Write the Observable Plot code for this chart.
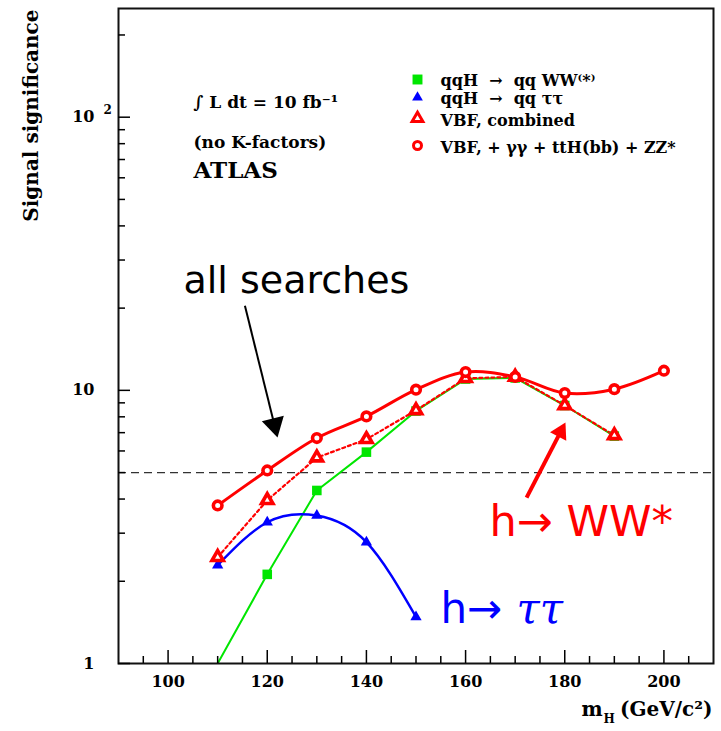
<!DOCTYPE html>
<html><head><meta charset="utf-8">
<script src="https://cdn.jsdelivr.net/npm/d3@7"></script>
<script src="https://cdn.jsdelivr.net/npm/@observablehq/plot@0.6"></script>
<style>html,body{margin:0;padding:0;background:#fff;overflow:hidden} svg{display:block}</style>
</head><body><div id="chart"></div>
<script>
// ---- data ----
const mass = [110, 120, 130, 140, 150, 160, 170, 180, 190, 200];
const wwSig = [1.0, 2.12, 4.30, 5.94, 8.4, 11.0, 11.1, 8.8, 6.8];          // qqH -> qq WW(*)
const tautauSig = [2.29, 3.29, 3.48, 2.78, 1.48];                          // qqH -> qq tautau
const vbfSig = [2.45, 3.96, 5.67, 6.62, 8.45, 11.07, 11.2, 8.81, 6.84];    // VBF combined
const allSig = [3.79, 5.09, 6.69, 8.03, 10.06, 11.67, 11.2, 9.77, 10.1, 11.8]; // all searches
const discovery = [5];
const xTickLabels = [100, 120, 140, 160, 180, 200];
const xMinorTicks = [95, 105, 110, 115, 125, 130, 135, 145, 150, 155, 165, 170, 175, 185, 190, 195, 205];
const yTickLabels = [1, 10, 100];
const yMinorTicks = [2, 3, 4, 5, 6, 7, 8, 9, 20, 30, 40, 50, 60, 70, 80, 90, 200];
const legendLabels = ["qqH  →  qq WW⁽*⁾", "qqH  →  qq ττ", "VBF, combined", "VBF, + γγ + ttH(bb) + ZZ*"];
const infoLines = ["∫ L dt = 10 fb⁻¹", "(no K-factors)", "ATLAS"];
// annotation arrows (data coordinates)
const arrowAll = [{x1: 115.5, y1: 20.4, x2: 121.44, y2: 7.48}];
const arrowWW = [{x1: 172.3, y1: 4.05, x2: 179.16, y2: 7.05}];

const rows = arr => arr.map((v, i) => ({m: mass[i], v}));
const ww = rows(wwSig), tt = rows(tautauSig), vbf = rows(vbfSig), all = rows(allSig);

const GREEN = "#00e600", BLUE = "#0000ff", RED = "#ff0000";
const FW = 721 - 118 - 8, FH = 731 - 8 - 68;
const serif = "DejaVu Serif";

const chart = Plot.plot({
  width: 721, height: 731,
  marginLeft: 118, marginRight: 8, marginTop: 8, marginBottom: 68,
  x: {domain: [90, 210]},
  y: {type: "log", domain: [1, 250]},
  style: {fontFamily: serif, fontWeight: "bold", fontSize: "16px", background: "white", color: "black"},
  marks: [
    Plot.ruleY(discovery, {stroke: "#333", strokeWidth: 1.2, strokeDasharray: "8,5"}),
    // lines
    Plot.line(ww, {x: "m", y: "v", stroke: GREEN, strokeWidth: 2, clip: true}),
    Plot.line(tt, {x: "m", y: "v", stroke: BLUE, strokeWidth: 2.5, curve: "natural"}),
    Plot.line(vbf, {x: "m", y: "v", stroke: RED, strokeWidth: 2.2, strokeDasharray: "3,3"}),
    Plot.line(all, {x: "m", y: "v", stroke: RED, strokeWidth: 3, curve: "catmull-rom"}),
    // markers
    Plot.dot(ww.filter(d => d.v > 1), {x: "m", y: "v", symbol: "square", r: 5.4, fill: GREEN}),
    Plot.dot(tt, {x: "m", y: "v", symbol: "triangle", r: 4.2, fill: BLUE}),
    Plot.dot(vbf, {x: "m", y: "v", symbol: "triangle", r: 4.2, fill: "white", stroke: RED, strokeWidth: 3.6}),
    Plot.dot(all, {x: "m", y: "v", symbol: "circle", r: 4.3, fill: "white", stroke: RED, strokeWidth: 3.6}),
    // frame + inward ticks
    Plot.frame({stroke: "#111", strokeWidth: 2}),
    Plot.tickX(xTickLabels, {x: d => d, insetTop: FH - 13, strokeWidth: 1.5}),
    Plot.tickX(xMinorTicks, {x: d => d, insetTop: FH - 7, strokeWidth: 1.5}),
    Plot.tickY(yTickLabels, {y: d => d, insetRight: FW - 12, strokeWidth: 1.5}),
    Plot.tickY(yMinorTicks, {y: d => d, insetRight: FW - 7, strokeWidth: 1.5}),
    // tick labels
    Plot.axisX({ticks: xTickLabels, tickSize: 0, tickPadding: 12, tickFormat: d => String(d), label: null, fontSize: 16}),
    Plot.axisY({ticks: yTickLabels, tickSize: 0, tickPadding: 24, tickFormat: d => d === 100 ? "10" : String(d), label: null, fontSize: 16}),
    Plot.text([100], {y: d => d, frameAnchor: "left", text: () => "2", dx: -15, dy: -7, textAnchor: "start", fontSize: 12}),
    // axis titles
    Plot.text(["Signal significance"], {frameAnchor: "top-left", text: d => d, rotate: -90, textAnchor: "end", lineAnchor: "bottom", dx: -81, dy: 1, fontSize: 20}),
    Plot.text(["(GeV/c²)"], {frameAnchor: "bottom-right", text: d => d, textAnchor: "end", lineAnchor: "bottom", dx: -1, dy: 52, fontSize: 20}),
    Plot.text(["H"], {frameAnchor: "bottom-right", text: d => d, textAnchor: "start", lineAnchor: "bottom", dx: -110, dy: 59, fontSize: 12}),
    Plot.text(["m"], {frameAnchor: "bottom-right", text: d => d, textAnchor: "start", lineAnchor: "bottom", dx: -132, dy: 52, fontSize: 20}),
    // info text
    Plot.text([infoLines[0]], {frameAnchor: "top-left", text: d => d, textAnchor: "start", lineAnchor: "bottom", dx: 75, dy: 99, fontSize: 17}),
    Plot.text([infoLines[1]], {frameAnchor: "top-left", text: d => d, textAnchor: "start", lineAnchor: "bottom", dx: 75, dy: 139, fontSize: 17}),
    Plot.text([infoLines[2]], {frameAnchor: "top-left", text: d => d, textAnchor: "start", lineAnchor: "bottom", dx: 75, dy: 169, fontSize: 23}),
    // legend
    Plot.dot([0], {frameAnchor: "top-left", dx: 299, dy: 71, symbol: "square", r: 5.6, fill: GREEN}),
    Plot.dot([0], {frameAnchor: "top-left", dx: 299, dy: 89, symbol: "triangle", r: 4, fill: BLUE}),
    Plot.dot([0], {frameAnchor: "top-left", dx: 299, dy: 110, symbol: "triangle", r: 4, fill: "white", stroke: RED, strokeWidth: 3}),
    Plot.dot([0], {frameAnchor: "top-left", dx: 299, dy: 137, symbol: "circle", r: 4, fill: "white", stroke: RED, strokeWidth: 3}),
    Plot.text([legendLabels[0]], {frameAnchor: "top-left", text: d => d, textAnchor: "start", lineAnchor: "bottom", dx: 322, dy: 77, fontSize: 16}),
    Plot.text([legendLabels[1]], {frameAnchor: "top-left", text: d => d, textAnchor: "start", lineAnchor: "bottom", dx: 322, dy: 95, fontSize: 16}),
    Plot.text([legendLabels[2]], {frameAnchor: "top-left", text: d => d, textAnchor: "start", lineAnchor: "bottom", dx: 322, dy: 117, fontSize: 16}),
    Plot.text([legendLabels[3]], {frameAnchor: "top-left", text: d => d, textAnchor: "start", lineAnchor: "bottom", dx: 322, dy: 144, fontSize: 16}),
    // annotations
    Plot.link(arrowAll, {x1: "x1", y1: "y1", x2: "x2", y2: "y2", stroke: "black", strokeWidth: 2}),
    Plot.dot(arrowAll, {x: "x2", y: "y2", symbol: "triangle", r: 8.4, rotate: 166.1, fill: "black"}),
    Plot.link(arrowWW, {x1: "x1", y1: "y1", x2: "x2", y2: "y2", stroke: RED, strokeWidth: 4}),
    Plot.dot(arrowWW, {x: "x2", y: "y2", symbol: "triangle", r: 6.8, rotate: 27.5, fill: RED}),
    Plot.text(["all searches"], {frameAnchor: "top-left", text: d => d, textAnchor: "start", lineAnchor: "bottom", dx: 65, dy: 284, fontSize: 38, fontFamily: "DejaVu Sans", fontWeight: "normal", fill: "black"}),
    Plot.text(["h→ WW*"], {frameAnchor: "top-left", text: d => d, textAnchor: "start", lineAnchor: "bottom", dx: 371, dy: 527, fontSize: 43, fontFamily: "DejaVu Sans", fontWeight: "normal", fill: RED}),
    Plot.text(["h→"], {frameAnchor: "top-left", text: d => d, textAnchor: "start", lineAnchor: "bottom", dx: 322, dy: 614, fontSize: 42, fontFamily: "DejaVu Sans", fontWeight: "normal", fill: BLUE}),
    Plot.text(["ττ"], {frameAnchor: "top-left", text: d => d, textAnchor: "start", lineAnchor: "bottom", dx: 398, dy: 614, fontSize: 42, fontFamily: serif, fontStyle: "italic", fontWeight: "normal", fill: BLUE})
  ]
});
document.getElementById("chart").append(chart);
</script></body></html>
